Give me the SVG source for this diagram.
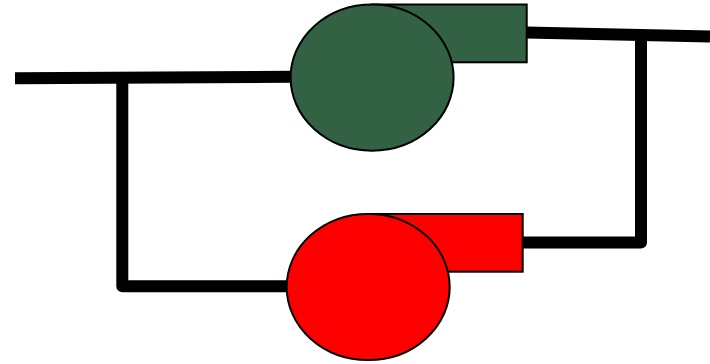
<svg xmlns="http://www.w3.org/2000/svg" width="710" height="364" viewBox="0 0 710 364">
<style>
.pipe{fill:none;stroke:#000;stroke-width:12;stroke-linejoin:round}
.body{stroke:#000;stroke-width:2}
.green{fill:#336144}
.red{fill:#ff0000}
</style>
<rect width="710" height="364" fill="#fff"/>
<g id="connectors">
<path class="pipe" d="M15 78.300L291 76.700"/>
<path class="pipe" d="M122.300 78V286.300H288"/>
<path class="pipe" d="M526 32.600L710 36.600"/>
<path class="pipe" d="M641 35V242.600H522"/>
</g>
<g id="pump-green">
<rect class="body green" x="372" y="4.500" width="154.700" height="57.800"/>
<ellipse class="body green" cx="372.100" cy="77.600" rx="81.500" ry="73.100"/>
</g>
<g id="pump-red">
<rect class="body red" x="368" y="214" width="154.700" height="57.700"/>
<ellipse class="body red" cx="368.200" cy="287" rx="81.500" ry="73.100"/>
</g>
</svg>
